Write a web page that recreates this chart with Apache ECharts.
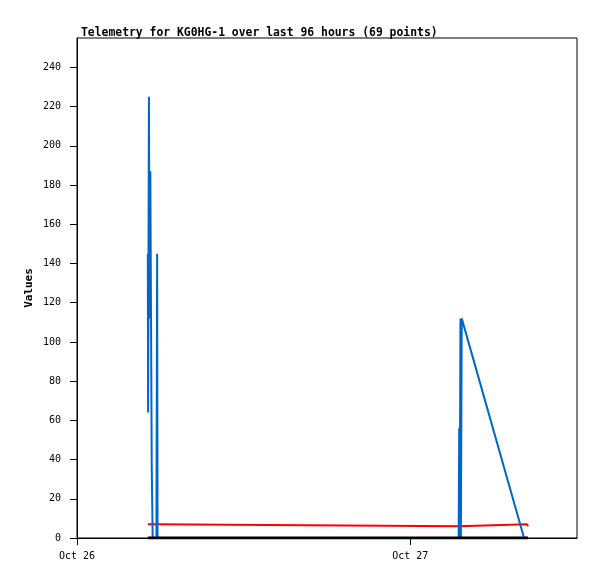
<!DOCTYPE html>
<html>
<head>
<meta charset="utf-8">
<script src="https://cdn.jsdelivr.net/npm/echarts@6/dist/echarts.min.js"></script>
<style>
  html, body { margin: 0; padding: 0; background: #fff; }
  #chart { width: 597px; height: 579px; }
</style>
</head>
<body>
<div id="chart"></div>
<script>
// hours since Oct 26 00:00
var xTickHours = [0, 24];
var xTickLabels = ['Oct 26', 'Oct 27'];
var yTicks = [0, 20, 40, 60, 80, 100, 120, 140, 160, 180, 200, 220, 240];

var redHours  = [5.10, 5.20, 5.24, 5.32, 5.40, 5.50, 5.56, 5.62, 27.50, 27.52, 32.40, 32.48];
var redValues = [7, 7, 6, 7, 6, 7, 7, 6, 6, 7, 7, 6];

var blueHours  = [5.10, 5.12, 5.18, 5.22, 5.28, 5.33, 5.38, 5.45, 5.72, 5.77, 5.80, 27.48, 27.52, 27.55, 27.61, 27.64, 27.70, 32.19];
var blueValues = [145, 64, 225, 112, 187, 112, 37, 0, 0, 145, 0, 0, 56, 0, 112, 0, 112, 0];

var blackHours  = [5.10, 5.45, 27.50, 32.48];
var blackValues = [0, 0, 0, 0];

function pairs(xs, ys) {
  var out = [];
  for (var i = 0; i < xs.length; i++) out.push([xs[i], ys[i]]);
  return out;
}

var myChart = echarts.init(document.getElementById('chart'));
var font = 'DejaVu Sans Mono';

var option = {
  backgroundColor: '#fff',
  animation: false,
  title: {
    text: 'Telemetry for KG0HG-1 over last 96 hours (69 points)',
    left: 76,
    top: 23,
    textStyle: { fontFamily: font, fontSize: 11.4, fontWeight: 'bold', color: '#000' }
  },
  graphic: [{
    type: 'text',
    x: 29,
    y: 288,
    rotation: Math.PI / 2,
    style: {
      text: 'Values',
      font: 'bold 11px "DejaVu Sans Mono"',
      fill: '#000',
      align: 'center',
      verticalAlign: 'middle'
    }
  }],
  grid: {
    left: 77, top: 38, right: 20, bottom: 41,
    show: true, borderColor: '#000', borderWidth: 1, backgroundColor: '#fff'
  },
  xAxis: {
    type: 'value',
    min: 0,
    max: 36,
    splitLine: { show: false },
    axisLine: { show: true, onZero: false, lineStyle: { color: '#000', width: 1 } },
    axisTick: { show: true, length: 7, customValues: xTickHours, lineStyle: { color: '#000' } },
    axisLabel: {
      customValues: xTickHours,
      formatter: function (v) { return xTickLabels[xTickHours.indexOf(v)] || ''; },
      fontFamily: font, fontSize: 10, color: '#000', margin: 13
    }
  },
  yAxis: {
    type: 'value',
    min: 0,
    max: 255,
    splitLine: { show: false },
    axisLine: { show: true, lineStyle: { color: '#000', width: 1 } },
    axisTick: { show: true, length: 7, customValues: yTicks, lineStyle: { color: '#000' } },
    axisLabel: {
      customValues: yTicks,
      fontFamily: font, fontSize: 10, color: '#000', margin: 16
    }
  },
  series: [
    {
      name: 'red', type: 'line', symbol: 'none',
      data: pairs(redHours, redValues),
      lineStyle: { color: '#ff0000', width: 2 }, z: 2
    },
    {
      name: 'blue', type: 'line', symbol: 'none',
      data: pairs(blueHours, blueValues),
      lineStyle: { color: '#0066cc', width: 2 }, z: 3
    },
    {
      name: 'black', type: 'line', symbol: 'none',
      data: pairs(blackHours, blackValues),
      lineStyle: { color: '#000', width: 3 }, z: 4
    }
  ]
};
myChart.setOption(option);
</script>
</body>
</html>
